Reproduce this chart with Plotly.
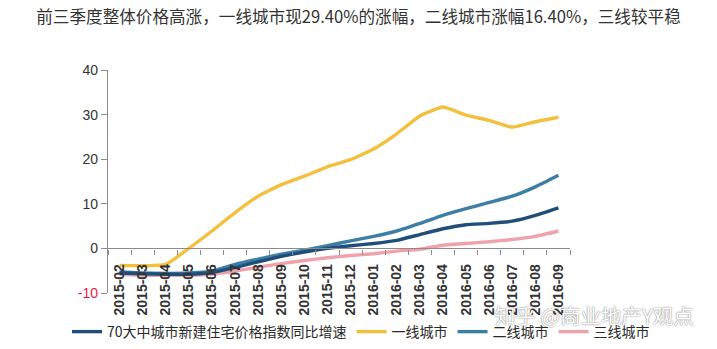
import plotly.graph_objects as go

categories = ["2015-02", "2015-03", "2015-04", "2015-05", "2015-06", "2015-07", "2015-08",
              "2015-09", "2015-10", "2015-11", "2015-12", "2016-01", "2016-02", "2016-03",
              "2016-04", "2016-05", "2016-06", "2016-07", "2016-08", "2016-09"]

city70 = [-5.5, -5.7, -5.8, -5.8, -5.4, -4.3, -3.0, -1.8, -0.8, 0.0, 0.6, 1.1, 1.8, 3.1,
          4.4, 5.3, 5.6, 6.1, 7.4, 9.1]
tier1 = [-3.8, -3.9, -3.6, 0.0, 3.9, 8.0, 11.7, 14.3, 16.2, 18.3, 19.9, 22.3, 25.7, 29.7,
         31.7, 29.9, 28.7, 27.2, 28.4, 29.4]
tier2 = [-5.3, -5.5, -5.6, -5.5, -5.1, -3.6, -2.4, -1.3, -0.4, 0.6, 1.7, 2.7, 3.9, 5.6,
         7.4, 8.9, 10.3, 11.7, 13.8, 16.4]
tier3 = [-5.8, -6.0, -6.0, -6.0, -5.8, -5.1, -4.2, -3.4, -2.7, -2.1, -1.6, -1.2, -0.6, -0.2,
         0.7, 1.1, 1.5, 2.0, 2.7, 3.9]

series_names = ["70大中城市新建住宅价格指数同比增速", "一线城市", "二线城市", "三线城市"]
series_values = [city70, tier1, tier2, tier3]
series_colors = ["#1f4e79", "#f2c03c", "#3d7ea6", "#f0a2aa"]

y_tickvals = [-10, 0, 10, 20, 30, 40]
y_ticktext = ["<span style='color:#e8174a'>-10</span>", "0", "10", "20", "30", "40"]

title_text = "前三季度整体价格高涨，一线城市现29.40%的涨幅，二线城市涨幅16.40%，三线较平稳"
watermark = "知乎 @商业地产Y观点"

fig = go.Figure()
order = [3, 2, 0, 1]
for i in order:
    fig.add_trace(go.Scatter(
        x=categories, y=series_values[i], name=series_names[i], mode="lines",
        line=dict(color=series_colors[i], width=3.4, shape="spline", smoothing=0.4),
        legendrank=i,
    ))

fig.update_layout(
    width=717, height=349,
    margin=dict(l=108, r=147, t=70, b=56, autoexpand=False),
    paper_bgcolor="white", plot_bgcolor="white",
    title=dict(text=title_text, x=0.5, xref="container", y=0.95, yref="container",
               xanchor="center", yanchor="middle",
               font=dict(family="Noto Sans CJK SC", size=16.6, color="#333333")),
    showlegend=True,
    legend=dict(orientation="h", x=1.184, xanchor="right", y=-0.175, yanchor="middle",
                font=dict(family="Noto Sans CJK SC", size=14, color="#2a2a2a"),
                itemwidth=30, tracegroupgap=0, traceorder="normal",
                bgcolor="rgba(0,0,0,0)"),
    xaxis=dict(type="category", categoryorder="array", categoryarray=categories,
               range=[-0.5, len(categories) - 0.5],
               anchor="free", position=0.2, automargin=False,
               showline=True, linecolor="#8c8c8c", linewidth=1.2,
               ticks="outside", tickson="boundaries", ticklen=5, tickcolor="#8c8c8c",
               ticklabelstandoff=9,
               tickangle=-90, showgrid=False, zeroline=False,
               tickfont=dict(family="Liberation Sans", size=14, color="#333333",
                             weight="bold")),
    yaxis=dict(range=[-10, 40], tickvals=y_tickvals, ticktext=y_ticktext,
               showline=True, linecolor="#8c8c8c", linewidth=1.2, automargin=False,
               ticks="outside", ticklen=6, tickcolor="#8c8c8c",
               showgrid=False, zeroline=False,
               tickfont=dict(family="Liberation Sans", size=14, color="#333333")),
    annotations=[dict(text=watermark, xref="paper", yref="paper", x=1.053, y=-0.1,
                      xanchor="center", yanchor="middle", showarrow=False,
                      font=dict(family="Noto Sans CJK SC", size=20.5, color="white",
                                shadow="0px 0px 1.5px rgba(60,60,60,0.9)"))],
)

fig.write_html("out.html")
